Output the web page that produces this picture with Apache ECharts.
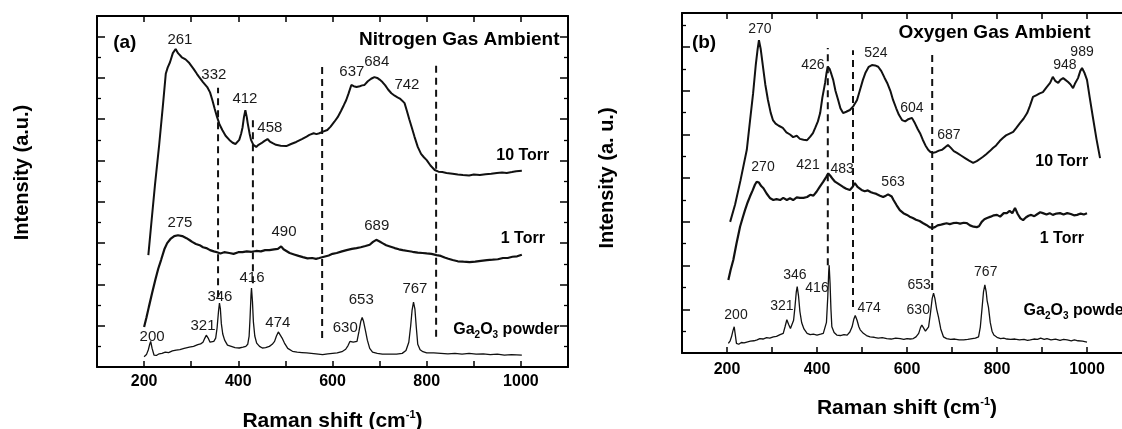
<!DOCTYPE html>
<html><head><meta charset="utf-8">
<script src="https://cdn.jsdelivr.net/npm/echarts@6/dist/echarts.min.js"></script>
<style>html,body{margin:0;padding:0;background:#fff}#c{width:1122px;height:429px}</style>
</head><body><div id="c"></div>
<script>
// ---------- DATA ----------
const xTickLabels = [200, 400, 600, 800, 1000];

// Panel (a) Nitrogen
const tenTorrA = [[209,2.71],[216,3.56],[223,4.4],[232,5.38],[240,6.34],[246,7.1],[250,7.25],[255,7.38],[261,7.6],[267,7.7],[272,7.6],[280,7.5],[288,7.45],[296,7.36],[305,7.22],[312,7.1],[317,7.02],[325,6.9],[334,6.78],[340,6.65],[345,6.46],[350,6.25],[355,6.05],[360,5.88],[366,5.74],[373,5.6],[381,5.5],[388,5.43],[394,5.4],[398,5.44],[402,5.5],[406,5.65],[409,5.8],[412,6.05],[415,6.22],[418,6.05],[420,5.9],[424,5.65],[427,5.5],[432,5.38],[438,5.33],[443,5.38],[449,5.42],[455,5.47],[462,5.52],[467,5.46],[473,5.42],[480,5.38],[490,5.36],[502,5.35],[512,5.4],[523,5.45],[535,5.52],[545,5.58],[551,5.62],[560,5.66],[566,5.64],[572,5.66],[580,5.7],[589,5.74],[596,5.82],[604,5.94],[611,6.05],[618,6.2],[624,6.34],[629,6.46],[634,6.62],[640,6.83],[645,6.8],[651,6.78],[658,6.8],[663,6.82],[668,6.83],[675,6.92],[682,6.98],[689,7.02],[695,7.0],[700,6.96],[706,6.9],[712,6.82],[718,6.72],[725,6.63],[732,6.57],[738,6.53],[743,6.5],[748,6.45],[753,6.39],[758,6.2],[763,6.0],[768,5.81],[774,5.58],[781,5.33],[788,5.16],[794,5.08],[800,5.01],[808,4.88],[817,4.77],[825,4.73],[833,4.72],[842,4.7],[855,4.68],[866,4.66],[877,4.65],[890,4.64],[900,4.66],[913,4.65],[925,4.67],[937,4.68],[949,4.7],[960,4.71],[970,4.7],[981,4.72],[990,4.74],[1002,4.75]];
const oneTorrA = [[200,0.97],[205,1.2],[210,1.45],[217,1.79],[224,2.12],[230,2.38],[236,2.59],[243,2.85],[249,3.0],[256,3.1],[264,3.17],[272,3.19],[281,3.17],[290,3.12],[297,3.07],[302,3.03],[310,2.98],[318,2.95],[325,2.9],[332,2.88],[340,2.83],[348,2.8],[355,2.78],[362,2.75],[370,2.78],[381,2.76],[390,2.74],[400,2.78],[409,2.78],[418,2.8],[428,2.79],[438,2.81],[448,2.8],[457,2.83],[466,2.83],[476,2.85],[484,2.86],[491,2.92],[496,2.85],[509,2.76],[520,2.72],[528,2.69],[537,2.66],[547,2.63],[557,2.64],[565,2.62],[572,2.64],[582,2.67],[592,2.7],[600,2.74],[609,2.76],[620,2.8],[630,2.83],[641,2.86],[651,2.88],[660,2.9],[670,2.93],[679,2.96],[686,3.03],[693,3.08],[700,3.04],[706,3.0],[714,2.95],[722,2.92],[732,2.88],[741,2.85],[749,2.83],[760,2.81],[770,2.79],[781,2.77],[791,2.76],[800,2.75],[810,2.74],[821,2.71],[830,2.69],[838,2.65],[846,2.62],[855,2.59],[866,2.56],[878,2.55],[891,2.54],[903,2.55],[915,2.57],[928,2.59],[940,2.6],[951,2.61],[962,2.64],[972,2.64],[982,2.67],[992,2.68],[1002,2.72]];
const powderA = [[200,0.25],[205,0.3],[209,0.42],[212,0.55],[214,0.62],[217,0.45],[221,0.29],[226,0.28],[232,0.32],[238,0.33],[245,0.36],[252,0.35],[260,0.39],[268,0.41],[276,0.42],[285,0.45],[296,0.48],[305,0.5],[314,0.54],[320,0.56],[325,0.6],[329,0.7],[332,0.77],[336,0.7],[340,0.6],[344,0.58],[348,0.62],[352,0.7],[355,0.95],[358,1.35],[360,1.55],[362,1.4],[364,1.05],[367,0.8],[371,0.65],[377,0.53],[385,0.5],[393,0.47],[402,0.46],[410,0.48],[416,0.5],[420,0.55],[423,0.75],[425,1.2],[427,1.75],[428,1.91],[430,1.6],[432,1.1],[435,0.75],[439,0.58],[445,0.5],[451,0.46],[458,0.47],[466,0.5],[472,0.55],[477,0.62],[481,0.75],[485,0.85],[489,0.82],[493,0.7],[498,0.58],[505,0.45],[515,0.38],[525,0.36],[535,0.35],[545,0.34],[555,0.33],[565,0.32],[579,0.3],[590,0.32],[600,0.33],[610,0.34],[620,0.37],[628,0.43],[633,0.52],[637,0.62],[640,0.65],[644,0.6],[648,0.56],[652,0.62],[656,0.85],[660,1.1],[663,1.2],[666,1.1],[670,0.88],[674,0.65],[679,0.45],[685,0.36],[695,0.33],[706,0.31],[720,0.31],[736,0.31],[748,0.33],[756,0.4],[762,0.6],[766,1.0],[769,1.38],[772,1.57],[775,1.4],[778,0.95],[781,0.55],[786,0.42],[792,0.37],[800,0.34],[815,0.34],[830,0.33],[845,0.32],[860,0.33],[875,0.31],[890,0.33],[905,0.31],[920,0.32],[935,0.3],[950,0.31],[965,0.29],[980,0.3],[1002,0.29]];
// dashed guides: [x, yBottom, yTop]
const dashA = [[357,1.69,6.76],[431,2.03,6.05],[578,0.7,7.36],[820,0.73,7.36]];
const peakLabelsA = [[276,7.92,'261'],[348,7.07,'332'],[414,6.49,'412'],[467,5.79,'458'],[641,7.14,'637'],[694,7.38,'684'],[758,6.83,'742'],[276,3.49,'275'],[497,3.27,'490'],[694,3.41,'689'],[429,2.15,'416'],[361,1.69,'346'],[325,0.99,'321'],[484,1.07,'474'],[217,0.73,'200'],[661,1.62,'653'],[627,0.94,'630'],[775,1.89,'767']];
const curveLabelsA = [[1004,5.13,'10 Torr'],[1004,3.1,'1 Torr']];
const powderLabelA = [[1083,0.9,'Ga{s|2}O{s|3} powder']];
const titleA = [[1083,7.92,'Nitrogen Gas Ambient']];
const tagA = [[159,7.85,'(a)']];

// Panel (b) Oxygen
const tenTorrB = [[207,3.0],[218,3.4],[230,3.95],[244,4.65],[251,5.3],[258,5.94],[264,6.6],[268,6.95],[271,7.16],[275,6.95],[280,6.55],[285,6.15],[291,5.79],[297,5.5],[302,5.33],[308,5.25],[315,5.2],[324,5.15],[332,5.05],[340,5.0],[347,4.94],[355,4.97],[362,4.9],[370,4.88],[378,4.87],[385,4.95],[391,5.03],[396,5.15],[402,5.3],[407,5.49],[412,5.85],[418,6.18],[421,6.4],[424,6.55],[428,6.5],[432,6.38],[436,6.25],[441,6.0],[447,5.79],[452,5.6],[458,5.49],[465,5.52],[473,5.56],[481,5.65],[489,5.79],[495,6.0],[502,6.25],[508,6.42],[515,6.55],[522,6.59],[529,6.58],[536,6.55],[543,6.45],[550,6.3],[556,6.18],[563,6.0],[569,5.79],[576,5.6],[582,5.45],[589,5.33],[596,5.3],[603,5.35],[611,5.38],[618,5.25],[624,5.12],[629,5.03],[635,4.88],[641,4.75],[647,4.65],[652,4.6],[658,4.58],[665,4.6],[671,4.63],[678,4.65],[684,4.7],[691,4.76],[697,4.7],[704,4.62],[711,4.58],[720,4.52],[729,4.46],[738,4.4],[747,4.35],[755,4.39],[762,4.44],[769,4.49],[776,4.55],[784,4.62],[791,4.69],[798,4.75],[806,4.85],[813,4.92],[820,4.98],[828,5.02],[836,5.06],[843,5.15],[851,5.26],[859,5.36],[867,5.49],[873,5.65],[880,5.86],[888,5.9],[895,5.94],[902,5.97],[910,6.08],[918,6.18],[924,6.32],[930,6.22],[936,6.18],[941,6.25],[947,6.29],[952,6.25],[958,6.2],[963,6.15],[969,6.06],[974,6.18],[980,6.29],[985,6.45],[989,6.52],[994,6.42],[1000,6.25],[1006,5.85],[1013,5.4],[1021,4.9],[1029,4.46]];
const oneTorrB = [[203,1.67],[208,1.9],[214,2.13],[221,2.5],[229,2.89],[235,3.1],[240,3.27],[246,3.45],[251,3.58],[257,3.72],[262,3.85],[266,3.92],[271,3.9],[276,3.82],[281,3.77],[288,3.65],[296,3.54],[303,3.5],[310,3.52],[318,3.5],[325,3.55],[333,3.5],[340,3.54],[347,3.5],[355,3.56],[362,3.55],[370,3.55],[378,3.57],[385,3.62],[392,3.6],[399,3.69],[406,3.8],[414,3.92],[420,4.02],[425,4.11],[430,4.05],[435,3.98],[440,3.92],[446,3.88],[452,3.84],[458,3.8],[465,3.76],[473,3.73],[479,3.8],[484,3.89],[490,3.8],[499,3.73],[506,3.7],[513,3.72],[520,3.68],[525,3.66],[532,3.64],[540,3.6],[547,3.57],[553,3.6],[558,3.63],[562,3.66],[566,3.58],[570,3.5],[577,3.38],[584,3.27],[592,3.2],[600,3.16],[606,3.12],[613,3.09],[620,3.05],[628,3.02],[636,2.97],[643,2.93],[650,2.88],[656,2.86],[662,2.88],[668,2.92],[673,2.93],[680,2.95],[688,2.97],[695,2.95],[702,2.97],[710,2.98],[718,2.96],[726,2.98],[733,2.97],[740,2.92],[748,2.89],[755,2.88],[760,2.9],[766,3.0],[772,3.06],[778,3.09],[786,3.12],[793,3.15],[800,3.16],[807,3.12],[815,3.2],[822,3.2],[828,3.25],[834,3.2],[840,3.32],[846,3.18],[852,3.08],[858,3.04],[864,3.1],[870,3.14],[876,3.16],[883,3.13],[890,3.18],[896,3.22],[902,3.2],[910,3.17],[917,3.2],[924,3.16],[932,3.19],[940,3.2],[948,3.17],[956,3.2],[964,3.18],[971,3.15],[978,3.16],[986,3.19],[993,3.17],[1000,3.2]];
const powderB = [[203,0.22],[207,0.28],[210,0.37],[213,0.5],[216,0.6],[218,0.45],[221,0.22],[226,0.2],[232,0.24],[238,0.23],[244,0.25],[252,0.27],[260,0.28],[267,0.3],[273,0.33],[280,0.32],[288,0.35],[295,0.34],[303,0.37],[310,0.38],[318,0.42],[325,0.45],[329,0.6],[333,0.76],[337,0.65],[341,0.56],[344,0.57],[348,0.75],[351,1.05],[354,1.4],[356,1.52],[359,1.3],[362,0.95],[366,0.69],[371,0.55],[378,0.45],[385,0.42],[392,0.43],[400,0.41],[408,0.43],[414,0.45],[418,0.48],[421,0.7],[424,1.3],[426,1.85],[427,2.01],[429,1.6],[431,1.0],[433,0.6],[438,0.47],[444,0.41],[452,0.4],[460,0.42],[467,0.41],[473,0.48],[478,0.6],[482,0.78],[485,0.86],[489,0.75],[493,0.6],[496,0.53],[503,0.45],[510,0.4],[518,0.37],[527,0.36],[536,0.34],[545,0.35],[555,0.33],[565,0.32],[575,0.34],[585,0.33],[593,0.31],[600,0.33],[607,0.32],[614,0.33],[620,0.37],[626,0.45],[630,0.58],[633,0.64],[637,0.57],[641,0.5],[644,0.48],[648,0.6],[652,0.9],[656,1.25],[659,1.37],[662,1.25],[666,1.0],[670,0.82],[675,0.55],[681,0.37],[688,0.33],[697,0.31],[706,0.32],[716,0.3],[726,0.3],[735,0.31],[745,0.33],[752,0.34],[759,0.37],[763,0.6],[767,1.05],[770,1.4],[773,1.56],[776,1.4],[778,1.2],[781,1.05],[785,0.7],[789,0.5],[793,0.41],[800,0.36],[808,0.33],[815,0.34],[822,0.32],[830,0.31],[840,0.32],[850,0.3],[860,0.31],[868,0.29],[874,0.3],[882,0.32],[890,0.31],[897,0.34],[905,0.31],[911,0.33],[920,0.3],[930,0.32],[940,0.29],[948,0.31],[956,0.3],[965,0.28],[972,0.3],[980,0.28],[990,0.27],[1000,0.25]];
const dashB = [[424,2.01,6.98],[480,1.05,6.93],[656,1.44,6.93]];
const peakLabelsB = [[273,7.41,'270'],[391,6.59,'426'],[531,6.86,'524'],[611,5.61,'604'],[693,4.99,'687'],[951,6.59,'948'],[989,6.89,'989'],[280,4.26,'270'],[380,4.3,'421'],[456,4.21,'483'],[569,3.91,'563'],[220,0.87,'200'],[322,1.08,'321'],[351,1.78,'346'],[400,1.49,'416'],[516,1.03,'474'],[627,1.56,'653'],[625,0.98,'630'],[775,1.85,'767']];
const curveLabelsB = [[944,4.37,'10 Torr'],[944,2.61,'1 Torr']];
const powderLabelB = [[858,0.96,'Ga{s|2}O{s|3} powder']];
const titleB = [[1009,7.32,'Oxygen Gas Ambient']];
const tagB = [[149,7.09,'(b)']];

// ---------- CHART ----------
const FONT = "'Liberation Sans', Arial, Helvetica, sans-serif";
const INK = '#000';

const panels = [
  {grid:{left:97, top:16, width:471, height:351}, yMax:8.5, yName:'Intensity (a.u.)', xGap:42, yGap:65, yPad:38, lblMargin:7,
   curves:[tenTorrA, oneTorrA, powderA], dashes:dashA, peaks:peakLabelsA, curveLabels:curveLabelsA,
   powder:powderLabelA, powderAlign:'right', title:titleA, tag:tagA, peakSize:15},
  {grid:{left:682, top:13, width:450, height:340}, yMax:7.78, yName:'Intensity (a. u.)', xGap:43, yGap:65, yPad:10, lblMargin:9,
   curves:[tenTorrB, oneTorrB, powderB], dashes:dashB, peaks:peakLabelsB, curveLabels:curveLabelsB,
   powder:powderLabelB, powderAlign:'left', title:titleB, tag:tagB, peakSize:14}
];

const grids = [], xAxes = [], yAxes = [], series = [];
const tickStyle = {show:true, inside:true, length:6, lineStyle:{color:INK, width:1.5}};
const lineAx = {show:true, onZero:false, lineStyle:{color:INK, width:2}};

function labelSeries(gi, items, style) {
  return {type:'scatter', xAxisIndex:gi*2, yAxisIndex:gi*2, symbolSize:1, silent:true, z:20,
    itemStyle:{color:'#fff', opacity:0},
    data: items.map(d => ({value:[d[0], d[1]], name:d[2]})),
    label: Object.assign({show:true, position:'inside', formatter:p => p.name, color:INK, opacity:1, fontFamily:FONT}, style)};
}

panels.forEach((p, gi) => {
  grids.push(Object.assign({outerBoundsMode:'none', containLabel:false}, p.grid));
  const xBase = {type:'value', gridIndex:gi, min:100, max:1100, interval:100, splitLine:{show:false}, axisLine:lineAx, axisTick:tickStyle};
  xAxes.push(Object.assign({}, xBase, {position:'bottom',
    axisLabel:{show:true, margin:p.lblMargin, color:INK, fontFamily:FONT, fontWeight:'bold', fontSize:16,
      formatter: v => xTickLabels.includes(v) ? String(v) : ''},
    name:'Raman shift (cm{sup|-1})', nameLocation:'middle', nameGap:p.xGap,
    nameTextStyle:{color:INK, fontFamily:FONT, fontWeight:'bold', fontSize:21, lineHeight:24,
      rich:{sup:{fontSize:11, fontWeight:'bold', fontFamily:FONT, color:INK, verticalAlign:'top', lineHeight:12}}}}));
  xAxes.push(Object.assign({}, xBase, {position:'top', axisLabel:{show:false}}));
  const yBase = {type:'value', gridIndex:gi, min:0, max:p.yMax, interval:1, splitLine:{show:false}, axisLine:lineAx,
    axisTick:Object.assign({}, tickStyle, {length:8}), minorTick:{show:true, splitNumber:2, length:4, lineStyle:{color:INK, width:1.3}},
    minorSplitLine:{show:false}, axisLabel:{show:false}};
  yAxes.push(Object.assign({}, yBase, {position:'left', name:p.yName, nameLocation:'middle', nameRotate:90, nameGap:p.yGap,
    nameTextStyle:{color:INK, fontFamily:FONT, fontWeight:'bold', fontSize:20, padding:[0,0,0,p.yPad]}}));
  yAxes.push(Object.assign({}, yBase, {position:'right'}));

  const widths = [2, 2.2, 1.3];
  p.curves.forEach((c, i) => series.push({type:'line', xAxisIndex:gi*2, yAxisIndex:gi*2, data:c, showSymbol:false,
    symbol:'none', smooth:false, silent:true, lineStyle:{color:'#111', width:widths[i]}, z:5}));
  p.dashes.forEach(d => series.push({type:'line', xAxisIndex:gi*2, yAxisIndex:gi*2, data:[[d[0], d[1]], [d[0], d[2]]],
    symbol:'none', silent:true, lineStyle:{color:'#111', width:2, type:[7,5]}, z:4}));
  series.push(labelSeries(gi, p.peaks, {fontSize:p.peakSize, color:'#1a1a1a'}));
  series.push(labelSeries(gi, p.curveLabels, {fontSize:16, fontWeight:'bold'}));
  series.push(labelSeries(gi, p.powder, {fontSize:16, fontWeight:'bold', lineHeight:20, align:p.powderAlign,
    position: p.powderAlign === 'right' ? 'left' : 'right', distance:0,
    rich:{s:{fontSize:10, fontWeight:'bold', fontFamily:FONT, color:INK, lineHeight:10, verticalAlign:'bottom'}}}));
  series.push(labelSeries(gi, p.title, {fontSize:19, fontWeight:'bold', position:'left', distance:0}));
  series.push(labelSeries(gi, p.tag, {fontSize:19, fontWeight:'bold'}));
});

const chart = echarts.init(document.getElementById('c'), null, {renderer:'canvas'});
chart.setOption({animation:false, backgroundColor:'#fff', grid:grids, xAxis:xAxes, yAxis:yAxes, series:series});
</script>
</body></html>
